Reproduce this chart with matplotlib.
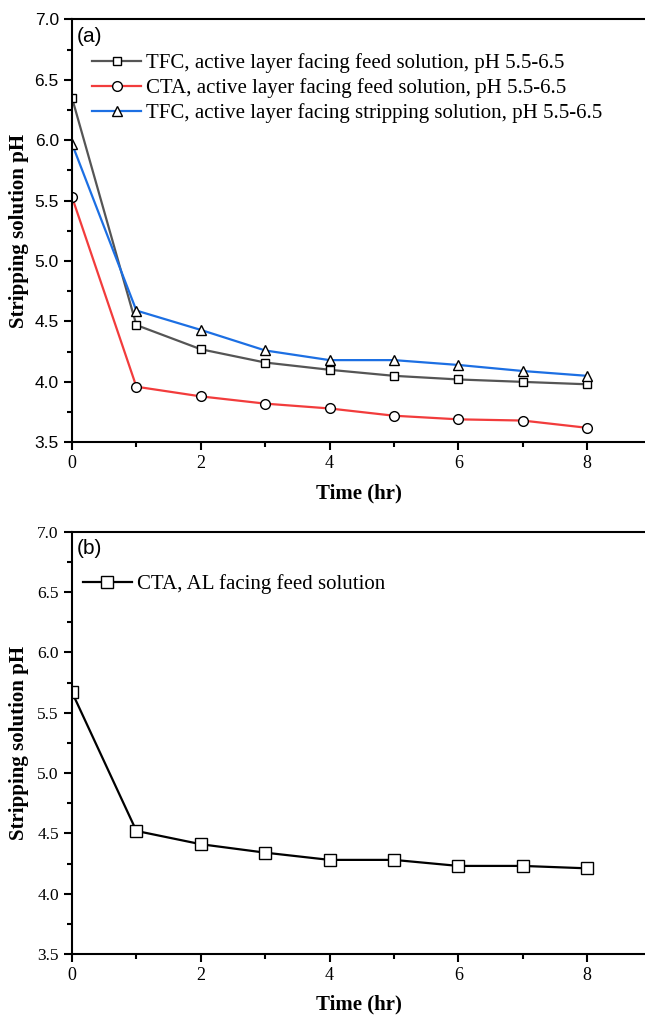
import matplotlib
matplotlib.use("Agg")
import matplotlib.pyplot as plt
from matplotlib.ticker import MultipleLocator

time_hr = [0, 1, 2, 3, 4, 5, 6, 7, 8]
tfc_feed = [6.35, 4.47, 4.27, 4.16, 4.10, 4.05, 4.02, 4.00, 3.98]
cta_feed = [5.53, 3.96, 3.88, 3.82, 3.78, 3.72, 3.69, 3.68, 3.62]
tfc_strip = [5.97, 4.59, 4.43, 4.26, 4.18, 4.18, 4.14, 4.09, 4.05]
cta_al_feed = [5.67, 4.52, 4.41, 4.34, 4.28, 4.28, 4.23, 4.23, 4.21]

labels_a = ["TFC, active layer facing feed solution, pH 5.5-6.5",
            "CTA, active layer facing feed solution, pH 5.5-6.5",
            "TFC, active layer facing stripping solution, pH 5.5-6.5"]
label_b = "CTA, AL facing feed solution"
xticks = [0, 2, 4, 6, 8]
yticks = [3.5, 4.0, 4.5, 5.0, 5.5, 6.0, 6.5, 7.0]

serif = ["Liberation Serif", "DejaVu Serif"]
sans = ["Liberation Sans", "DejaVu Sans"]

W, H = 645, 1017
fig = plt.figure(figsize=(W / 100, H / 100), dpi=100)

left = 72 / W
ax1 = fig.add_axes([left, 1 - 442.3 / H, 1 - left, (442.3 - 19.3) / H])
ax2 = fig.add_axes([left, 1 - 954 / H, 1 - left, (954 - 531.7) / H])


def style(ax, ytick_family, ytick_size):
    ax.set_xlim(0, 8.9)
    ax.set_ylim(3.5, 7.0)
    ax.spines['right'].set_visible(False)
    for s in ['left', 'bottom', 'top']:
        ax.spines[s].set_linewidth(1.5)
    ax.xaxis.set_minor_locator(MultipleLocator(1))
    ax.yaxis.set_minor_locator(MultipleLocator(0.25))
    ax.tick_params(which='major', direction='out', length=6, width=1.5, top=False, right=False)
    ax.tick_params(which='minor', direction='out', length=3.5, width=1.5, top=False, right=False)
    ax.set_xticks(xticks)
    ax.set_xticklabels([str(v) for v in xticks], family=serif, fontsize=13)
    ax.set_yticks(yticks)
    ax.set_yticklabels([f"{v:.1f}" for v in yticks], family=ytick_family, fontsize=ytick_size)
    ax.set_xlabel("Time (hr)", family=serif, fontweight='bold', fontsize=15)
    ax.xaxis.set_label_coords(0.5, -0.12)
    ax.xaxis.label.set_va('center')
    ax.set_ylabel("Stripping solution pH", family=serif, fontweight='bold', fontsize=15)
    ax.yaxis.set_label_coords(-0.093, 0.5)
    ax.yaxis.label.set_va('center')


mk = dict(markerfacecolor='white', markeredgecolor='black', markeredgewidth=1.0)
ax1.plot(time_hr, tfc_feed, color='#555555', lw=1.6, marker='s', markersize=6, label=labels_a[0], **mk)
ax1.plot(time_hr, cta_feed, color='#f23c3c', lw=1.6, marker='o', markersize=7, label=labels_a[1], **mk)
ax1.plot(time_hr, tfc_strip, color='#1c6fe3', lw=1.6, marker='^', markersize=7.5, label=labels_a[2], **mk)
style(ax1, sans, 12.5)
ax1.text(0.009, 0.982, "(a)", transform=ax1.transAxes, family=sans, fontsize=15, va='top', ha='left')
ax1.legend(loc='upper left', bbox_to_anchor=(0.035, 0.92), frameon=False, prop={'family': serif, 'size': 15},
           handlelength=2.35, handletextpad=0.25, labelspacing=0.24, borderpad=0, borderaxespad=0)

ax2.plot(time_hr, cta_al_feed, color='black', lw=1.6, marker='s', markersize=8.5, label=label_b, **mk)
style(ax2, serif, 12.5)
ax2.text(0.009, 0.982, "(b)", transform=ax2.transAxes, family=sans, fontsize=15, va='top', ha='left')
ax2.legend(loc='upper left', bbox_to_anchor=(0.019, 0.90), frameon=False, prop={'family': serif, 'size': 15},
           handlelength=2.35, handletextpad=0.25, borderpad=0, borderaxespad=0)

fig.savefig("out.png", dpi=100)
